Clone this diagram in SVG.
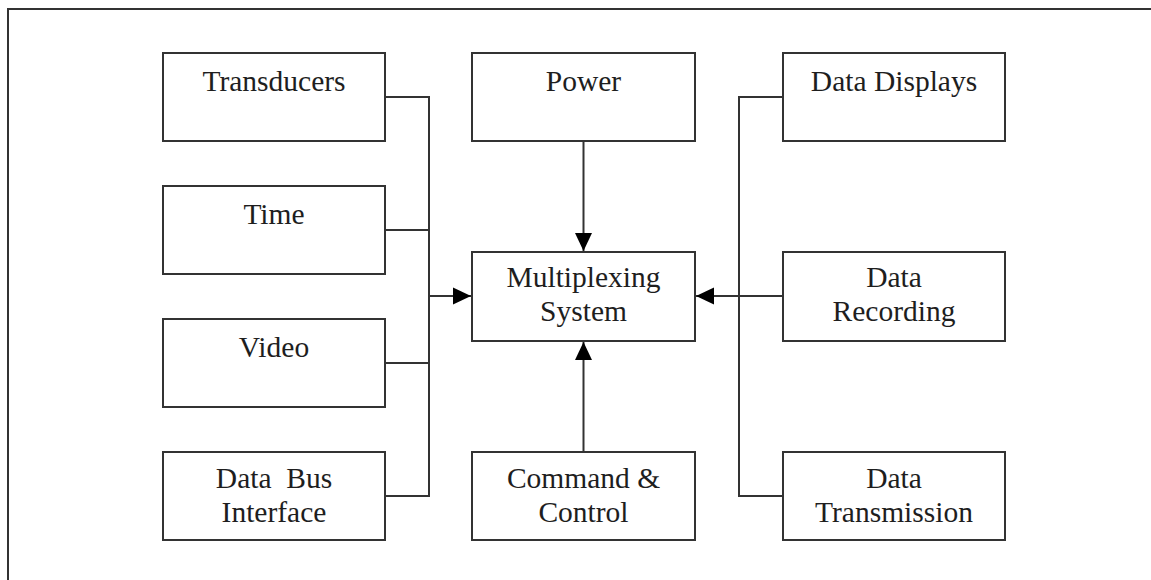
<svg xmlns="http://www.w3.org/2000/svg" width="1151" height="580" viewBox="0 0 1151 580">
<style>
.box{fill:#fff;stroke:#333;stroke-width:2}
.lbl{font-family:"Liberation Serif","Times New Roman",serif;font-size:29.5px;fill:#1e1e1e;text-anchor:middle;white-space:pre}
.ln{fill:none;stroke:#333;stroke-width:2}
</style>
<defs>
<marker id="ah" viewBox="0 0 18 18" refX="18" refY="9" markerWidth="18" markerHeight="18" markerUnits="userSpaceOnUse" orient="auto">
<path d="M0,0.5 L18,9 L0,17.5 Z" fill="#000"/>
</marker>
</defs>
<rect width="1151" height="580" fill="#fff"/>
<path class="ln" d="M8,580 V9 H1151" stroke="#444"/>
<g id="connectors">
<path class="ln" d="M385,97 H429 M385,230 H429 M385,363 H429 M385,496 H429 M429,96 V497"/>
<path class="ln" d="M429,296 H471" marker-end="url(#ah)"/>
<path class="ln" d="M783,97 H739 M783,496 H739 M739,96 V497"/>
<path class="ln" d="M783,296 H696" marker-end="url(#ah)"/>
<path class="ln" d="M583.5,141 V251" marker-end="url(#ah)"/>
<path class="ln" d="M583.5,452 V342" marker-end="url(#ah)"/>
</g>
<g id="transducers"><rect class="box" x="163" y="53" width="222" height="88"/><text class="lbl" x="274" y="91">Transducers</text></g>
<g id="time"><rect class="box" x="163" y="186" width="222" height="88"/><text class="lbl" x="274" y="224">Time</text></g>
<g id="video"><rect class="box" x="163" y="319" width="222" height="88"/><text class="lbl" x="274" y="357">Video</text></g>
<g id="databus"><rect class="box" x="163" y="452" width="222" height="88"/><text class="lbl" x="274" y="488">Data  Bus</text><text class="lbl" x="274" y="522">Interface</text></g>
<g id="power"><rect class="box" x="472" y="53" width="223" height="88"/><text class="lbl" x="583.5" y="91">Power</text></g>
<g id="multiplexing"><rect class="box" x="472" y="252" width="223" height="89"/><text class="lbl" x="583.5" y="287">Multiplexing</text><text class="lbl" x="583.5" y="321">System</text></g>
<g id="command"><rect class="box" x="472" y="452" width="223" height="88"/><text class="lbl" x="583.5" y="488">Command &amp;</text><text class="lbl" x="583.5" y="522">Control</text></g>
<g id="displays"><rect class="box" x="783" y="53" width="222" height="88"/><text class="lbl" x="894" y="91">Data Displays</text></g>
<g id="recording"><rect class="box" x="783" y="252" width="222" height="89"/><text class="lbl" x="894" y="287">Data</text><text class="lbl" x="894" y="321">Recording</text></g>
<g id="transmission"><rect class="box" x="783" y="452" width="222" height="88"/><text class="lbl" x="894" y="488">Data</text><text class="lbl" x="894" y="522">Transmission</text></g>
</svg>
